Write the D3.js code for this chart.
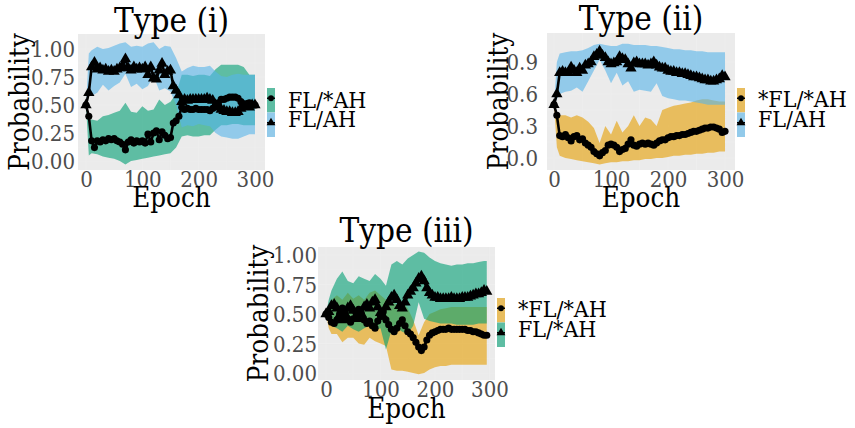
<!DOCTYPE html>
<html><head><meta charset="utf-8">
<script src="https://cdn.jsdelivr.net/npm/d3@7"></script>
<style>body{margin:0;background:#fff}svg{display:block}</style>
</head><body>
<svg id="chart" width="855" height="428"></svg>
<script>
// ---------- data ----------
const epochs300 = [0,5,10,15,20,25,30,35,40,45,50,55,60,65,70,75,80,85,90,95,100,105,110,115,120,125,130,135,140,145,150,155,160,165,170,175,180,185,190,195,200,205,210,215,220,225,230,235,240,245,250,255,260,265,270,275,280,285,290,295,300];
const epochs295 = [0,5,10,15,20,25,30,35,40,45,50,55,60,65,70,75,80,85,90,95,100,105,110,115,120,125,130,135,140,145,150,155,160,165,170,175,180,185,190,195,200,205,210,215,220,225,230,235,240,245,250,255,260,265,270,275,280,285,290,295];
const ribbonEpochs300 = [0,5,10,20,30,40,50,60,70,80,90,100,110,120,130,140,150,160,170,180,190,200,210,220,230,240,250,260,270,280,290,300];
const ribbonEpochs295 = [0,5,10,20,30,40,50,60,70,80,90,100,110,120,130,140,150,160,170,180,190,200,210,220,230,240,250,260,270,280,290,295];

// Type (i)
const typeI_FLnAH = [.50,.40,.18,.12,.18,.17,.19,.18,.20,.19, .20,.18,.17,.15,.10,.17,.19,.16,.18,.17, .18,.16,.24,.17,.25,.27,.19,.26,.23,.20, .21,.34,.36,.40,.48,.46,.47,.46,.46,.47, .46,.46,.46,.46,.45,.47,.50,.52,.55,.55, .56,.57,.57,.57,.56,.53,.51,.51,.52,.50, .50];
const typeI_FLAH   = [.50,.61,.84,.88,.82,.83,.81,.82,.80,.81, .80,.82,.83,.85,.91,.83,.81,.84,.82,.83, .82,.84,.77,.84,.74,.73,.81,.87,.77,.80, .81,.67,.63,.59,.53,.55,.54,.55,.55,.55, .55,.55,.55,.56,.55,.54,.50,.48,.46,.45, .44,.44,.43,.43,.44,.47,.49,.49,.48,.50, .50];
const typeI_FLnAH_lo = [0.50,0.05,0.07,0.06,0.04,0.03,0.02,0.00,-0.03,0.00,0.01,0.02,0.03,0.04,0.05,0.06,0.07,0.12,0.22,0.23,0.22,0.22,0.23,0.23,0.28,0.32,0.32,0.33,0.33,0.32,0.32,0.32];
const typeI_FLnAH_hi = [0.50,0.36,0.37,0.36,0.40,0.41,0.43,0.45,0.52,0.44,0.43,0.49,0.45,0.46,0.55,0.50,0.53,0.60,0.77,0.77,0.76,0.77,0.77,0.76,0.82,0.86,0.86,0.86,0.86,0.84,0.77,0.77];
const typeI_FLAH_lo  = [0.50,0.58,0.58,0.61,0.68,0.63,0.67,0.70,0.78,0.66,0.69,0.64,0.67,0.76,0.63,0.65,0.62,0.50,0.30,0.32,0.31,0.33,0.32,0.31,0.25,0.22,0.21,0.20,0.20,0.22,0.24,0.24];
const typeI_FLAH_hi  = [0.50,0.96,0.99,1.02,1.00,1.01,1.03,1.05,1.06,1.02,1.03,1.02,1.05,1.06,1.00,1.03,1.02,0.92,0.80,0.83,0.85,0.84,0.84,0.85,0.80,0.76,0.75,0.77,0.78,0.77,0.77,0.77];

// Type (ii)
const typeII_nFLnAH = [.50,.40,.21,.20,.22,.19,.16,.20,.21,.17, .18,.14,.12,.10,.06,.04,.02,.05,.07,.12, .13,.12,.10,.06,.08,.09,.13,.17,.12,.11, .13,.14,.13,.14,.13,.12,.14,.16,.17,.17, .19,.20,.20,.21,.21,.22,.22,.23,.24,.25, .25,.26,.27,.28,.28,.29,.29,.28,.27,.24, .25];
const typeII_FLAH   = [.50,.60,.80,.81,.80,.80,.85,.82,.80,.84, .82,.87,.88,.90,.95,.97,1.00,.96,.94,.90, .88,.89,.90,.95,.93,.92,.88,.84,.89,.90, .88,.88,.88,.87,.88,.90,.87,.85,.84,.84, .82,.81,.81,.80,.80,.79,.79,.78,.77,.76, .76,.75,.74,.73,.73,.72,.72,.73,.74,.77, .76];
const typeII_nFLnAH_lo = [0.50,0.10,0.02,0.00,-0.01,-0.02,-0.03,-0.04,-0.05,-0.06,-0.05,-0.04,-0.04,-0.03,-0.03,-0.02,-0.02,-0.01,-0.01,0.00,0.00,0.01,0.02,0.02,0.03,0.03,0.04,0.04,0.05,0.05,0.06,0.06];
const typeII_nFLnAH_hi = [0.50,0.42,0.40,0.40,0.38,0.40,0.38,0.34,0.28,0.14,0.30,0.22,0.35,0.24,0.30,0.40,0.30,0.38,0.36,0.30,0.45,0.47,0.49,0.50,0.51,0.52,0.54,0.55,0.55,0.54,0.53,0.53];
const typeII_FLAH_lo   = [0.50,0.55,0.60,0.62,0.63,0.66,0.62,0.72,0.82,0.92,0.82,0.70,0.80,0.68,0.72,0.62,0.64,0.63,0.62,0.70,0.58,0.56,0.55,0.54,0.54,0.53,0.52,0.51,0.50,0.50,0.50,0.50];
const typeII_FLAH_hi   = [0.50,0.90,0.98,0.99,1.00,1.00,1.01,1.03,1.06,1.07,1.06,1.05,1.05,1.07,1.07,1.06,1.06,1.06,1.05,1.05,1.04,1.03,1.02,1.02,1.01,1.01,1.00,1.00,0.99,0.99,0.99,0.99];

// Type (iii)
const typeIII_nFLnAH = [.50,.47,.43,.42,.45,.50,.55,.52,.46,.43, .46,.51,.54,.50,.45,.42,.44,.40,.38,.44, .48,.52,.45,.41,.37,.35,.38,.42,.45,.40, .35,.33,.30,.26,.22,.19,.22,.28,.32,.34, .35,.36,.37,.37,.37,.38,.37,.37,.37,.37, .37,.37,.36,.36,.35,.35,.34,.33,.32,.32];
const typeIII_FLnAH  = [.50,.52,.57,.58,.55,.49,.45,.50,.55,.57, .53,.48,.46,.50,.56,.58,.55,.60,.62,.56, .51,.48,.56,.60,.64,.66,.62,.57,.55,.60, .66,.69,.72,.76,.80,.82,.78,.72,.68,.66, .64,.64,.63,.63,.63,.63,.64,.63,.63,.63, .64,.64,.64,.65,.66,.67,.67,.68,.70,.69];
const typeIII_nFLnAH_lo = [0.50,0.38,0.33,0.33,0.26,0.30,0.30,0.25,0.24,0.30,0.27,0.25,0.23,0.03,0.02,0.02,0.01,0.00,-0.01,0.00,0.03,0.05,0.06,0.06,0.07,0.07,0.07,0.07,0.07,0.07,0.07,0.07];
const typeIII_nFLnAH_hi = [0.50,0.58,0.62,0.66,0.62,0.68,0.63,0.66,0.62,0.68,0.70,0.66,0.62,0.60,0.58,0.60,0.55,0.45,0.32,0.43,0.50,0.52,0.54,0.55,0.56,0.56,0.56,0.56,0.56,0.56,0.56,0.56];
const typeIII_FLnAH_lo  = [0.50,0.42,0.40,0.38,0.35,0.40,0.37,0.35,0.38,0.40,0.36,0.38,0.20,0.36,0.38,0.35,0.33,0.40,0.60,0.46,0.44,0.43,0.42,0.42,0.42,0.41,0.41,0.41,0.41,0.42,0.42,0.42];
const typeIII_FLnAH_hi  = [0.50,0.62,0.70,0.80,0.86,0.78,0.76,0.82,0.80,0.78,0.84,0.80,0.74,0.92,0.95,0.92,0.97,1.00,1.03,1.02,0.98,0.95,0.93,0.92,0.91,0.92,0.92,0.93,0.93,0.94,0.95,0.95];

const titles = ["Type (i)", "Type (ii)", "Type (iii)"];
const xTicks = [0, 100, 200, 300];
const yTicksA = [0, 0.25, 0.5, 0.75, 1];
const yTicksB = [0, 0.3, 0.6, 0.9];
const legendI = ["FL/*AH", "FL/AH"];
const legendII = ["*FL/*AH", "FL/AH"];
const legendIII = ["*FL/*AH", "FL/*AH"];

const COL_GREEN = "#009E73", COL_BLUE = "#56B4E9", COL_ORANGE = "#E69F00";
const FONT = "'DejaVu Serif Condensed', 'DejaVu Serif', serif";

// ---------- layout ----------
const panels = [
  { title: titles[0], left: 78, right: 265, top: 34, bottom: 170, xlim: [-14.2, 317.8], ylim: [-0.080, 1.134],
    yTicks: yTicksA, yFmt: d3.format(".2f"), yLabX: 75, titleY: 32,
    lineX: epochs300, ribX: ribbonEpochs300,
    series: [
      { name: legendI[0], col: COL_GREEN, shape: "circle", vals: typeI_FLnAH, lo: typeI_FLnAH_lo, hi: typeI_FLnAH_hi },
      { name: legendI[1], col: COL_BLUE, shape: "triangle", vals: typeI_FLAH, lo: typeI_FLAH_lo, hi: typeI_FLAH_hi }],
    leg: { keyX: 267, keyTop: 88, textX: 288, base: [108, 127] }, yTitleX: 29, xTitleY: 207 },
  { title: titles[1], left: 547, right: 735, top: 33, bottom: 170, xlim: [-12.3, 317.5], ylim: [-0.1125, 1.1715],
    yTicks: yTicksB, yFmt: d3.format(".1f"), yLabX: 538, titleY: 30,
    lineX: epochs300, ribX: ribbonEpochs300,
    series: [
      { name: legendII[0], col: COL_ORANGE, shape: "circle", vals: typeII_nFLnAH, lo: typeII_nFLnAH_lo, hi: typeII_nFLnAH_hi },
      { name: legendII[1], col: COL_BLUE, shape: "triangle", vals: typeII_FLAH, lo: typeII_FLAH_lo, hi: typeII_FLAH_hi }],
    leg: { keyX: 737, keyTop: 88, textX: 758, base: [107, 127] }, yTitleX: 508, xTitleY: 207 },
  { title: titles[2], left: 318, right: 495, top: 247, bottom: 380, xlim: [-14.7, 310.1], ylim: [-0.059, 1.068],
    yTicks: yTicksA, yFmt: d3.format(".2f"), yLabX: 317, titleY: 242,
    lineX: epochs295, ribX: ribbonEpochs295,
    series: [
      { name: legendIII[0], col: COL_ORANGE, shape: "circle", vals: typeIII_nFLnAH, lo: typeIII_nFLnAH_lo, hi: typeIII_nFLnAH_hi },
      { name: legendIII[1], col: COL_GREEN, shape: "triangle", vals: typeIII_FLnAH, lo: typeIII_FLnAH_lo, hi: typeIII_FLnAH_hi }],
    leg: { keyX: 497, keyTop: 298, textX: 518, base: [317, 337] }, yTitleX: 268, xTitleY: 418 }
];

const svg = d3.select("#chart");
const defs = svg.append("defs");

panels.forEach((p, pi) => {
  const x = d3.scaleLinear().domain(p.xlim).range([p.left, p.right]);
  const y = d3.scaleLinear().domain(p.ylim).range([p.bottom, p.top]);
  const g = svg.append("g");

  g.append("rect").attr("x", p.left).attr("y", p.top)
    .attr("width", p.right - p.left).attr("height", p.bottom - p.top).attr("fill", "#EBEBEB");

  // faint grid
  const yt = p.yTicks;
  const yMinor = yt.slice(0, -1).map((v, i) => (v + yt[i + 1]) / 2);
  const xMinor = xTicks.slice(0, -1).map((v, i) => (v + xTicks[i + 1]) / 2);
  g.selectAll(".gy").data(yt.concat(yMinor)).join("line")
    .attr("x1", p.left).attr("x2", p.right).attr("y1", d => y(d)).attr("y2", d => y(d))
    .attr("stroke", "#EEEEEE").attr("stroke-width", 0.8);
  g.selectAll(".gx").data(xTicks.concat(xMinor)).join("line")
    .attr("y1", p.top).attr("y2", p.bottom).attr("x1", d => x(d)).attr("x2", d => x(d))
    .attr("stroke", "#EEEEEE").attr("stroke-width", 0.8);

  defs.append("clipPath").attr("id", "clip" + pi).append("rect")
    .attr("x", p.left).attr("y", p.top).attr("width", p.right - p.left).attr("height", p.bottom - p.top);
  const inner = g.append("g").attr("clip-path", `url(#clip${pi})`);

  // ribbons
  p.series.forEach(s => {
    const rd = p.ribX.map((e, i) => ({ e, lo: s.lo[i], hi: s.hi[i] }));
    inner.append("path").datum(rd)
      .attr("d", d3.area().x(d => x(d.e)).y0(d => y(d.lo)).y1(d => y(d.hi)))
      .attr("fill", s.col).attr("fill-opacity", 0.6);
  });
  // lines
  p.series.forEach(s => {
    const ld = p.lineX.map((e, i) => ({ e, v: s.vals[i] }));
    inner.append("path").datum(ld)
      .attr("d", d3.line().x(d => x(d.e)).y(d => y(d.v)))
      .attr("fill", "none").attr("stroke", "#000").attr("stroke-width", 2.6).attr("stroke-linejoin", "round");
  });
  // points
  p.series.forEach(s => {
    const ld = p.lineX.map((e, i) => ({ e, v: s.vals[i] }));
    const sym = d3.symbol().type(s.shape === "circle" ? d3.symbolCircle : d3.symbolTriangle)
      .size(s.shape === "circle" ? 40 : 55);
    inner.selectAll(null).data(ld).join("path")
      .attr("transform", d => `translate(${x(d.e)},${y(d.v)})`)
      .attr("d", sym).attr("fill", "#000");
  });

  // axes
  const yAxis = d3.axisLeft(y).tickValues(p.yTicks).tickFormat(p.yFmt).tickSize(0).tickPadding(p.left - p.yLabX);
  const ya = g.append("g").attr("transform", `translate(${p.left},0)`).call(yAxis);
  ya.select(".domain").remove();
  ya.selectAll("text").attr("font-family", FONT).attr("font-size", 22).attr("fill", "#4D4D4D").attr("dy", "0.36em");

  const xAxis = d3.axisBottom(x).tickValues(xTicks).tickFormat(d3.format("d")).tickSize(0).tickPadding(1);
  const xa = g.append("g").attr("transform", `translate(0,${p.bottom})`).call(xAxis);
  xa.select(".domain").remove();
  xa.selectAll("text").attr("font-family", FONT).attr("font-size", 22).attr("fill", "#4D4D4D");

  // titles
  const cx = (p.left + p.right) / 2, cy = (p.top + p.bottom) / 2;
  g.append("text").attr("x", cx).attr("y", p.titleY).attr("text-anchor", "middle")
    .attr("font-family", FONT).attr("font-size", 33).attr("fill", "#000").text(p.title);
  g.append("text").attr("x", cx).attr("y", p.xTitleY).attr("text-anchor", "middle")
    .attr("font-family", FONT).attr("font-size", 27.5).attr("fill", "#000").text("Epoch");
  g.append("text").attr("transform", `translate(${p.yTitleX},${cy}) rotate(-90)`).attr("text-anchor", "middle")
    .attr("font-family", FONT).attr("font-size", 27.5).attr("fill", "#000").text("Probability");

  // legend
  const L = p.leg, keyW = 8, keyH = 24.5;
  p.series.forEach((s, i) => {
    const ky = L.keyTop + i * keyH;
    g.append("rect").attr("x", L.keyX).attr("y", ky).attr("width", keyW).attr("height", keyH)
      .attr("fill", "#EBEBEB");
    g.append("rect").attr("x", L.keyX).attr("y", ky).attr("width", keyW).attr("height", keyH)
      .attr("fill", s.col).attr("fill-opacity", 0.6);
    const my = ky + keyH / 2 - 2;
    g.append("line").attr("x1", L.keyX).attr("x2", L.keyX + keyW).attr("y1", my).attr("y2", my)
      .attr("stroke", "#000").attr("stroke-width", 1.5);
    g.append("path").attr("transform", `translate(${L.keyX + keyW / 2},${my})`)
      .attr("d", d3.symbol().type(s.shape === "circle" ? d3.symbolCircle : d3.symbolTriangle).size(s.shape === "circle" ? 26 : 34))
      .attr("fill", "#000");
    g.append("text").attr("x", L.textX).attr("y", L.base[i]).attr("font-family", FONT)
      .attr("font-size", 23).attr("fill", "#000").text(s.name);
  });
});
</script>
</body></html>
